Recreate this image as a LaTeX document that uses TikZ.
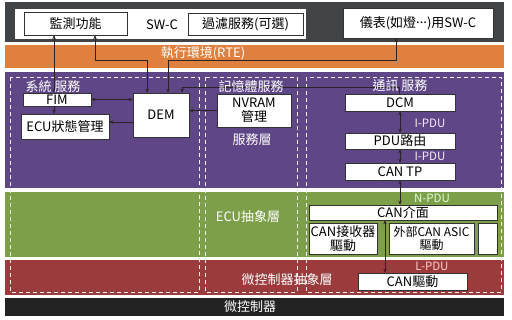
\documentclass[tikz,border=0pt]{standalone}
\usepackage{fontspec}
\setmainfont{Noto Sans CJK TC}
\usepackage{xcolor}
\usepackage{tikz}
\usetikzlibrary{arrows.meta,positioning}

\definecolor{swcgray}{HTML}{414446}
\definecolor{rteorange}{HTML}{E0803E}
\definecolor{svcpurple}{HTML}{5F4787}
\definecolor{ecugreen}{HTML}{7E9F4A}
\definecolor{mcalred}{HTML}{9B3B3C}
\definecolor{mcublack}{HTML}{232323}
\definecolor{boxline}{HTML}{333333}
\definecolor{wire}{HTML}{2A2424}

\begin{document}
\begin{tikzpicture}[
  x=1pt, y=-1pt,
  box/.style={
    draw=boxline,
    fill=white,
    line width=0.6pt,
    inner sep=0pt,
    align=center,
    font=\fontsize{13}{13.5}\selectfont
  },
  swcarea/.style={fill=white, inner sep=0pt},
  bandlbl/.style={text=white, inner sep=0pt, font=\fontsize{13}{14}\selectfont},
  pdulbl/.style={inner sep=0pt, font=\fontsize{11.5}{12}\selectfont},
  column/.style={draw=white!90!gray, dash pattern=on 4pt off 3pt, line width=0.6pt},
  arr/.style={-{Stealth[length=4pt,width=3.6pt]}, line width=0.7pt, draw=wire},
  arrs/.style={{Stealth[length=4pt,width=3.6pt]}-{Stealth[length=4pt,width=3.6pt]}, line width=0.7pt, draw=wire}
]
\useasboundingbox (0,0) rectangle (512,319);
\fill[white] (0,0) rectangle (512,319);

% layers
\fill[swcgray] (5,2) rectangle (504,42);
\fill[rteorange] (5,45) rectangle (504,68);
\fill[svcpurple] (5,72) rectangle (504,188);
\fill[ecugreen] (5,192) rectangle (504,257);
\fill[mcalred] (5,260) rectangle (504,295);
\fill[mcublack] (5,298) rectangle (504,316);

% service columns
\draw[column] (10,77) rectangle (199,292);
\draw[column] (205,77) rectangle (297,292);
\draw[column] (306,77) rectangle (501,292);

% SW-C
\node[swcarea, minimum width=291, minimum height=30] (swc) at (160.5,24) {};
\node[inner sep=0pt, font=\fontsize{13}{14}\selectfont] (swclbl) at (162,25) {SW-C};
\node[box, minimum width=103, minimum height=23] (monitor) at (75.5,23.5) {監測功能};
\node[box, minimum width=115, minimum height=22] (filter) at (245.5,24) {過濾服務(可選)};
\node[box, minimum width=150, minimum height=30] (meter) at (418,23) {儀表(如燈\raisebox{0.3em}{...})用SW-C};

% services
\node[box, minimum width=68, minimum height=13] (fim) at (57,99.5) {FIM};
\node[box, minimum width=88, minimum height=25] (ecu) at (65,126.5) {ECU狀態管理};
\node[box, minimum width=56, minimum height=44] (dem) at (161,115) {DEM};
\node[box, minimum width=74, minimum height=33] (nvram) at (254,110.5) {NVRAM\\管理};
\node[box, minimum width=110, minimum height=17] (dcm) at (400,102.5) {DCM};
\node[box, minimum width=110, minimum height=16] (pdur) at (400,141) {PDU路由};
\node[box, minimum width=110, minimum height=17] (cantp) at (400,171.5) {CAN TP};

% ECU abstraction and MCAL
\node[box, minimum width=188, minimum height=15] (canif) at (403,212.5) {CAN介面};
\node[box, minimum width=68, minimum height=31] (trx) at (343,238.5) {CAN接收器\\驅動};
\node[box, minimum width=85, minimum height=31, font=\fontsize{12}{13}\selectfont] (asic) at (431.5,238.5) {外部CAN ASIC\\驅動};
\node[box, minimum width=19, minimum height=31] (spare) at (487.5,238.5) {};
\node[box, minimum width=109, minimum height=17] (candrv) at (412.5,281.5) {CAN驅動};

% connectors
\coordinate (xmonfim) at (54,0);
\coordinate (xmondem) at (95,0);
\coordinate (kneemon) at (147,60);
\coordinate (kneemeter) at (168,60);
\coordinate (xmeter) at (396,60);
\coordinate (kneedcm) at (182,87);
\coordinate (xdcm) at (399,87);
\coordinate (ydemecu) at (0,122);
\coordinate (xcan) at (385,0);

\draw[arrs] (xmonfim |- monitor.south) -- (xmonfim |- fim.north);
\draw[arr] (xmonfim |- fim.south) -- (xmonfim |- ecu.north);
\draw[arrs] (xmondem |- monitor.south) |- (kneemon) -- (kneemon |- dem.north);
\draw[arrs] (kneemeter |- dem.north) -- (kneemeter) -- (xmeter) -- (xmeter |- meter.south);
\draw[arr] (xdcm |- dcm.north) -- (xdcm) -- (kneedcm) -- (kneedcm |- dem.north);
\draw[arrs] (fim.east) -- (fim.east -| dem.west);
\draw[arr] (ydemecu -| dem.west) -- (ydemecu -| ecu.east);
\draw[arr] (nvram.west) -- (nvram.west -| dem.east);
\draw[arrs] (dcm.south) -- (pdur.north);
\draw[arrs] (pdur.south) -- (cantp.north);
\draw[arrs] (cantp.south) -- (cantp.south |- canif.north);
\draw[arrs] (xcan |- canif.south) -- (xcan |- candrv.north);

% layer and group labels
\node[bandlbl] (rte) at (203,53) {執行環境(RTE)};
\node[bandlbl] (syssvc) at (53,87) {系統 服務};
\node[bandlbl] (memsvc) at (251,87) {記憶體服務};
\node[bandlbl] (comsvc) at (400,86) {通訊 服務};
\node[bandlbl] (svclayer) at (252,140) {服務層};
\node[bandlbl] (ecuab) at (248,217) {ECU抽象層};
\node[bandlbl] (mcal) at (287,280) {微控制器抽象層};
\node[bandlbl] (mcu) at (250,307) {微控制器};

\node[pdulbl, text=white!92!violet] (ipdua) at (430,123) {I-PDU};
\node[pdulbl, text=white!92!violet] (ipdub) at (430,156) {I-PDU};
\node[pdulbl, text=green!15!white] (npdu) at (432,198) {N-PDU};
\node[pdulbl, text=red!20!white] (lpdu) at (432,266) {L-PDU};
\end{tikzpicture}
\end{document}
